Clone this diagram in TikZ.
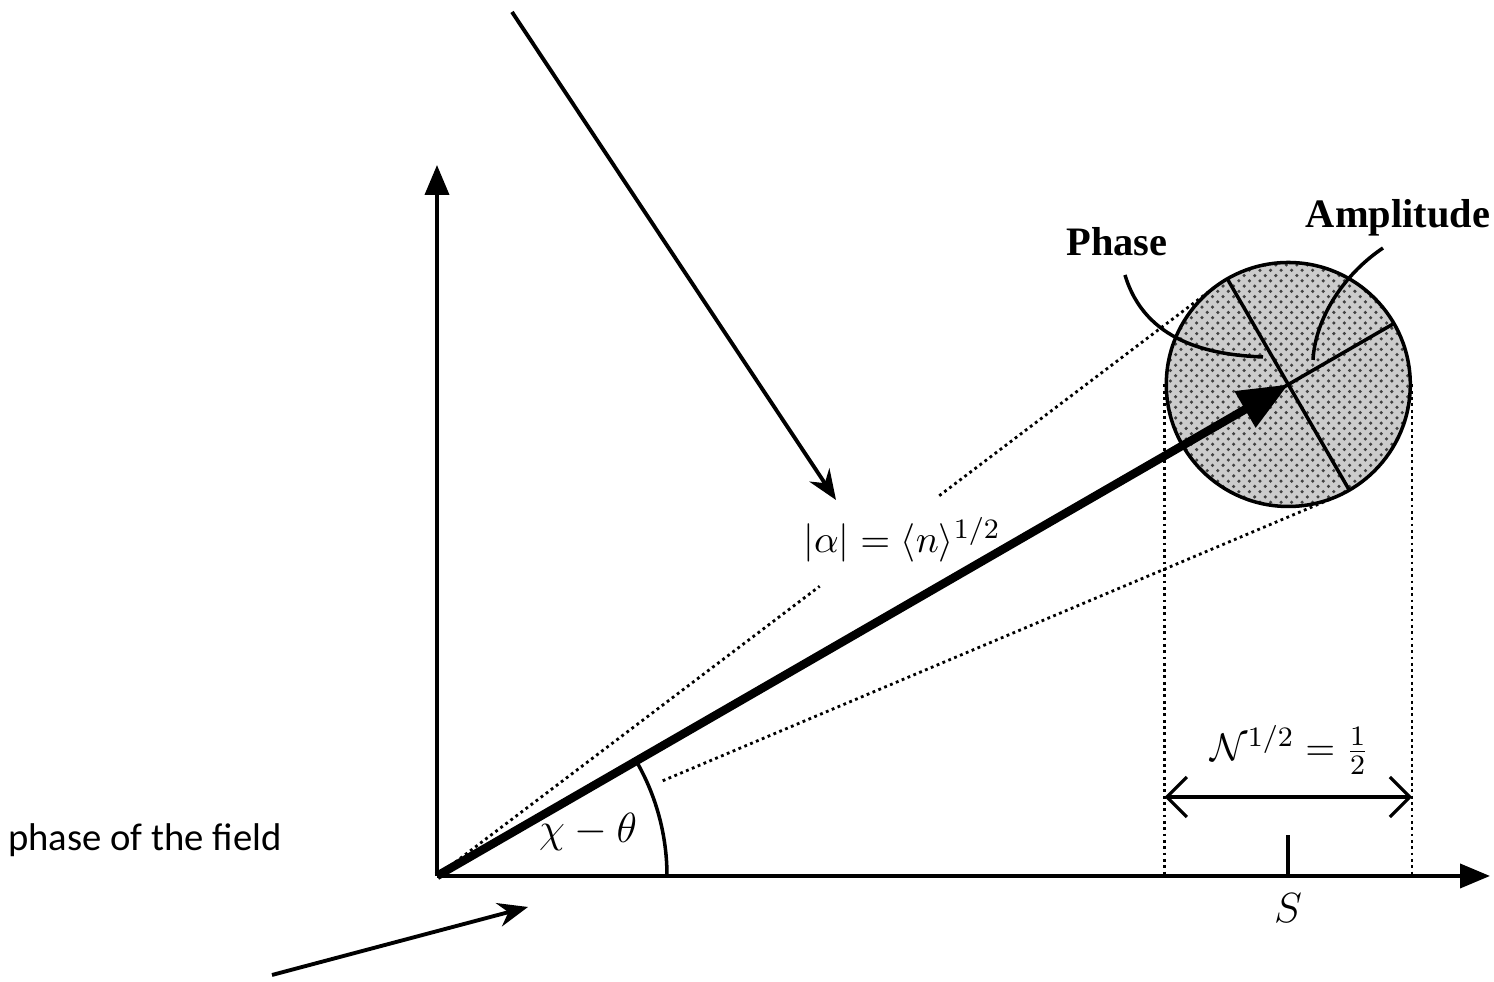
\documentclass[tikz,border=0pt]{standalone}
\usepackage{fontspec}
\newfontfamily\labelfont{Liberation Serif}
\newfontfamily\notefont{Carlito}
\usetikzlibrary{arrows.meta, calc, patterns}

\begin{document}
\begin{tikzpicture}[
  axis/.style={line width=1.1pt, -{Triangle[length=3mm, width=2.4mm]}},
  phasor/.style={line width=2.4pt, -{Triangle[length=5mm, width=4mm]}},
  dotline/.style={densely dotted, line width=0.8pt},
  leader/.style={line width=1.1pt, -{Stealth[length=3mm, width=2.4mm]}},
  curvelead/.style={line width=1pt},
  lbl/.style={font=\labelfont\bfseries\fontsize{11.5}{14}\selectfont, inner sep=1pt},
  mathlbl/.style={font=\fontsize{11}{13}\selectfont, inner sep=1pt}
]
\useasboundingbox (0,0) rectangle (14.94,9.82);

% ---- Axes ----
\coordinate (O) at (4.37,1.06);
\coordinate (ytip) at (4.37,8.17);
\coordinate (xtip) at (14.90,1.06);
\draw[axis] (O) -- (ytip);
\draw[axis] (O) -- (xtip);

% ---- Noise circle ----
\coordinate (C) at ($(O)+(30:9.83)$);
\node[circle, draw, line width=1pt, minimum size=2.44cm, inner sep=0pt,
      preaction={fill=gray!40}, pattern=crosshatch dots, pattern color=black!75] (blob) at (C) {};
\draw[line width=1pt] ($(C)+(120:1.22)$) -- ($(C)+(300:1.22)$);
\draw[line width=1pt] ($(C)+(210:1.22)$) -- ($(C)+(30:1.22)$);

% ---- Tangent lines ----
\coordinate (tup) at ($(O)+(37.13:9.75)$);
\coordinate (tlo) at ($(O)+(22.87:9.75)$);
\draw[dotline] ($(O)+(37.13:0.1)$) -- ($(O)+(37.13:4.8)$);
\draw[dotline] ($(O)+(37.13:6.3)$) -- (tup);
\draw[dotline] ($(O)+(22.87:2.45)$) -- (tlo);
\draw[dotline] (blob.west) -- (blob.west |- O);
\draw[dotline] (blob.east) -- (blob.east |- O);

% ---- Phasor and angle ----
\draw[phasor] (O) -- (C);
\draw[line width=1pt] ($(O)+(2.3,0)$) arc[start angle=0, end angle=30, radius=2.3];
\node[mathlbl, font=\fontsize{12.5}{14}\selectfont] (chi) at (5.88,1.50) {$\chi-\theta$};

% ---- Width and mean ----
\coordinate (dl) at ($(blob.west |- O)+(0,0.79)$);
\coordinate (dr) at ($(blob.east |- O)+(0,0.79)$);
\draw[line width=0.9pt, {Straight Barb[length=2mm]}-{Straight Barb[length=2mm]}] (dl) -- (dr);
\node[mathlbl] (width) at (12.90,2.32) {$\mathcal{N}^{1/2}=\frac{1}{2}$};
\draw[line width=1.1pt] (C |- O) -- ++(0,0.41);
\node[mathlbl, font=\fontsize{12.5}{14}\selectfont] (S) at (12.88,0.74) {$S$};

% ---- Labels ----
\node[mathlbl] (alpha) at (9.02,4.42) {$|\alpha|=\langle n\rangle^{1/2}$};
\node[lbl] (phase) at (11.17,7.40) {Phase};
\node[lbl] (ampl) at (13.98,7.64) {Amplitude};
\draw[curvelead] (11.25,7.07) .. controls (11.45,6.40) and (12.10,6.27) .. (12.63,6.25);
\draw[curvelead] (13.83,7.34) .. controls (13.40,7.05) and (13.15,6.60) .. (13.13,6.22);

% ---- Notes ----
\node[font=\notefont\fontsize{11}{13}\selectfont] (note) at (1.45,1.42) {phase of the field};
\coordinate (topstart) at (5.12,9.70);
\coordinate (botstart) at (2.72,0.07);
\draw[leader] (topstart) -- (8.36,4.82);
\draw[leader] (botstart) -- (5.28,0.75);

\end{tikzpicture}
\end{document}
